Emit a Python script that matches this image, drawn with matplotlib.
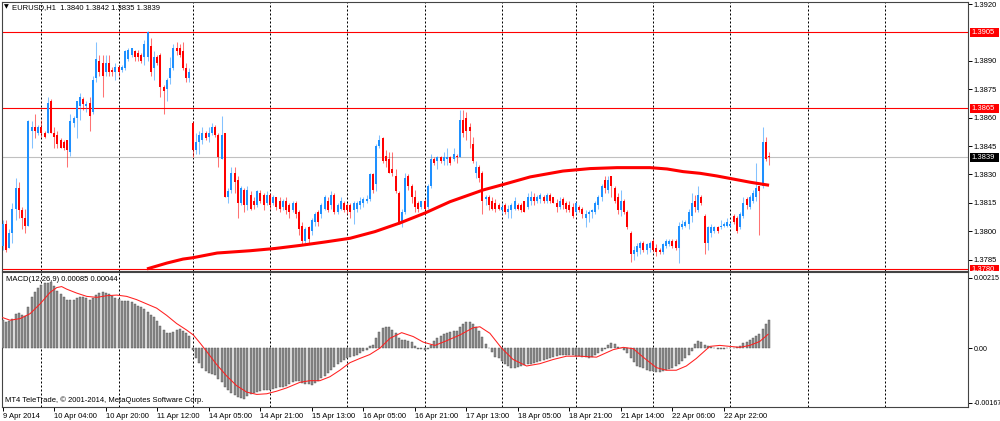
"""EURUSD H1 candles with moving average and MACD, drawn in the MT4 look."""
import numpy as np
import matplotlib
matplotlib.use("Agg")
import matplotlib.pyplot as plt
from matplotlib.patches import Rectangle
from matplotlib.transforms import Bbox, TransformedBbox, blended_transform_factory

# ---- candles, one per hour, bar 0 = 9 Apr 2014 12:00 ----
opens = [
    1.3792, 1.3804, 1.3791, 1.3799, 1.3812, 1.3823, 1.3811, 1.3807, 1.3803, 1.3853,
    1.3855, 1.3852, 1.3855, 1.3852, 1.3852, 1.3869, 1.3852, 1.3851, 1.3848, 1.3847,
    1.3848, 1.3842, 1.3857, 1.3860, 1.3866, 1.3870, 1.3866, 1.3868, 1.3863, 1.3881,
    1.3890, 1.3889, 1.3884, 1.3889, 1.3885, 1.3884, 1.3887, 1.3885, 1.3886, 1.3891,
    1.3893, 1.3895, 1.3894, 1.3893, 1.3892, 1.3892, 1.3898, 1.3886, 1.3892, 1.3893,
    1.3876, 1.3875, 1.3881, 1.3886, 1.3897, 1.3897, 1.3895, 1.3886, 1.3881, 1.3857,
    1.3843, 1.3847, 1.3848, 1.3852, 1.3850, 1.3852, 1.3855, 1.3851, 1.3838, 1.3852,
    1.3818, 1.3822, 1.3831, 1.3827, 1.3815, 1.3822, 1.3814, 1.3819, 1.3816, 1.3814,
    1.3820, 1.3819, 1.3815, 1.3819, 1.3815, 1.3818, 1.3816, 1.3813, 1.3816, 1.3814,
    1.3811, 1.3815, 1.3810, 1.3803, 1.3795, 1.3802, 1.3800, 1.3805, 1.3810, 1.3809,
    1.3812, 1.3816, 1.3814, 1.3819, 1.3810, 1.3812, 1.3815, 1.3814, 1.3814, 1.3811,
    1.3812, 1.3814, 1.3815, 1.3816, 1.3817, 1.3830, 1.3825, 1.3845, 1.3849, 1.3840,
    1.3838, 1.3833, 1.3829, 1.3820, 1.3805, 1.3810, 1.3829, 1.3824, 1.3818, 1.3815,
    1.3813, 1.3816, 1.3813, 1.3824, 1.3838, 1.3837, 1.3839, 1.3837, 1.3838, 1.3839,
    1.3838, 1.3840, 1.3839, 1.3859, 1.3860, 1.3855, 1.3846, 1.3831, 1.3834, 1.3831,
    1.3817, 1.3818, 1.3816, 1.3815, 1.3814, 1.3811, 1.3814, 1.3810, 1.3811, 1.3812,
    1.3814, 1.3814, 1.3816, 1.3813, 1.3816, 1.3818, 1.3816, 1.3817, 1.3818, 1.3816,
    1.3819, 1.3818, 1.3815, 1.3813, 1.3817, 1.3815, 1.3814, 1.3813, 1.3810, 1.3813,
    1.3812, 1.3807, 1.3809, 1.3810, 1.3810, 1.3814, 1.3818, 1.3827, 1.3822, 1.3829,
    1.3823, 1.3818, 1.3811, 1.3816, 1.3810, 1.3799, 1.3788, 1.3789, 1.3791, 1.3794,
    1.3790, 1.3791, 1.3795, 1.3791, 1.3790, 1.3789, 1.3792, 1.3793, 1.3795, 1.3795,
    1.3791, 1.3802, 1.3803, 1.3804, 1.3808, 1.3816, 1.3811, 1.3818, 1.3808, 1.3794,
    1.3799, 1.3800, 1.3802, 1.3802, 1.3803, 1.3803, 1.3803, 1.3808, 1.3807, 1.3802,
    1.3808, 1.3817, 1.3813, 1.3816, 1.3818, 1.3824, 1.3824, 1.3847, 1.3840,
]
highs = [
    1.3806, 1.3806, 1.3801, 1.3815, 1.3828, 1.3826, 1.3813, 1.3812, 1.3859, 1.3858,
    1.3862, 1.3856, 1.3859, 1.3853, 1.3871, 1.3870, 1.3855, 1.3853, 1.3849, 1.3848,
    1.3848, 1.3862, 1.3861, 1.3869, 1.3873, 1.3871, 1.3869, 1.3871, 1.3882, 1.3900,
    1.3893, 1.3893, 1.3893, 1.3893, 1.3887, 1.3889, 1.3888, 1.3888, 1.3896, 1.3897,
    1.3897, 1.3896, 1.3896, 1.3894, 1.3901, 1.3906, 1.3902, 1.3895, 1.3893, 1.3894,
    1.3877, 1.3881, 1.3892, 1.3899, 1.3900, 1.3899, 1.3900, 1.3889, 1.3886, 1.3858,
    1.3852, 1.3853, 1.3855, 1.3853, 1.3855, 1.3857, 1.3856, 1.3852, 1.3861, 1.3852,
    1.3823, 1.3834, 1.3834, 1.3829, 1.3824, 1.3823, 1.3824, 1.3821, 1.3818, 1.3822,
    1.3822, 1.3820, 1.3821, 1.3820, 1.3819, 1.3818, 1.3818, 1.3817, 1.3818, 1.3815,
    1.3816, 1.3816, 1.3811, 1.3805, 1.3802, 1.3803, 1.3807, 1.3810, 1.3811, 1.3815,
    1.3819, 1.3818, 1.3821, 1.3820, 1.3815, 1.3818, 1.3816, 1.3815, 1.3815, 1.3816,
    1.3816, 1.3818, 1.3818, 1.3819, 1.3831, 1.3831, 1.3846, 1.3851, 1.3850, 1.3843,
    1.3842, 1.3842, 1.3833, 1.3821, 1.3812, 1.3831, 1.3830, 1.3825, 1.3822, 1.3816,
    1.3816, 1.3817, 1.3825, 1.3841, 1.3839, 1.3840, 1.3840, 1.3842, 1.3844, 1.3840,
    1.3844, 1.3841, 1.3864, 1.3864, 1.3863, 1.3857, 1.3850, 1.3837, 1.3835, 1.3832,
    1.3819, 1.3819, 1.3818, 1.3817, 1.3815, 1.3815, 1.3815, 1.3814, 1.3815, 1.3818,
    1.3815, 1.3815, 1.3816, 1.3820, 1.3821, 1.3820, 1.3819, 1.3820, 1.3819, 1.3820,
    1.3820, 1.3818, 1.3817, 1.3818, 1.3818, 1.3816, 1.3816, 1.3815, 1.3816, 1.3814,
    1.3813, 1.3811, 1.3811, 1.3812, 1.3816, 1.3819, 1.3825, 1.3829, 1.3829, 1.3829,
    1.3824, 1.3820, 1.3822, 1.3817, 1.3811, 1.3800, 1.3792, 1.3794, 1.3795, 1.3795,
    1.3794, 1.3795, 1.3796, 1.3793, 1.3791, 1.3794, 1.3796, 1.3796, 1.3796, 1.3796,
    1.3805, 1.3806, 1.3806, 1.3812, 1.3820, 1.3819, 1.3824, 1.3819, 1.3809, 1.3803,
    1.3804, 1.3803, 1.3803, 1.3806, 1.3805, 1.3807, 1.3805, 1.3809, 1.3808, 1.3810,
    1.3818, 1.3818, 1.3819, 1.3822, 1.3836, 1.3824, 1.3855, 1.3850, 1.3842,
]
lows = [
    1.3790, 1.3789, 1.3791, 1.3794, 1.3806, 1.3807, 1.3801, 1.3799, 1.3803, 1.3844,
    1.3849, 1.3851, 1.3850, 1.3849, 1.3852, 1.3852, 1.3844, 1.3844, 1.3844, 1.3843,
    1.3834, 1.3840, 1.3855, 1.3849, 1.3859, 1.3864, 1.3863, 1.3853, 1.3862, 1.3879,
    1.3882, 1.3871, 1.3882, 1.3882, 1.3882, 1.3880, 1.3882, 1.3884, 1.3885, 1.3890,
    1.3892, 1.3890, 1.3890, 1.3889, 1.3888, 1.3890, 1.3882, 1.3880, 1.3888, 1.3871,
    1.3862, 1.3869, 1.3878, 1.3885, 1.3893, 1.3892, 1.3885, 1.3879, 1.3879, 1.3839,
    1.3841, 1.3841, 1.3846, 1.3848, 1.3847, 1.3851, 1.3850, 1.3834, 1.3838, 1.3818,
    1.3815, 1.3820, 1.3820, 1.3807, 1.3814, 1.3810, 1.3811, 1.3811, 1.3812, 1.3813,
    1.3815, 1.3811, 1.3814, 1.3812, 1.3814, 1.3811, 1.3810, 1.3811, 1.3809, 1.3807,
    1.3810, 1.3807, 1.3798, 1.3793, 1.3794, 1.3794, 1.3798, 1.3803, 1.3803, 1.3807,
    1.3811, 1.3810, 1.3812, 1.3809, 1.3809, 1.3811, 1.3810, 1.3809, 1.3807, 1.3804,
    1.3810, 1.3812, 1.3813, 1.3815, 1.3816, 1.3820, 1.3821, 1.3844, 1.3836, 1.3834,
    1.3831, 1.3829, 1.3820, 1.3804, 1.3802, 1.3809, 1.3822, 1.3815, 1.3810, 1.3810,
    1.3812, 1.3811, 1.3812, 1.3823, 1.3835, 1.3833, 1.3836, 1.3835, 1.3835, 1.3835,
    1.3837, 1.3836, 1.3839, 1.3850, 1.3848, 1.3844, 1.3836, 1.3828, 1.3826, 1.3809,
    1.3814, 1.3811, 1.3811, 1.3810, 1.3811, 1.3809, 1.3809, 1.3807, 1.3807, 1.3811,
    1.3811, 1.3810, 1.3810, 1.3812, 1.3814, 1.3814, 1.3815, 1.3815, 1.3815, 1.3815,
    1.3815, 1.3815, 1.3810, 1.3812, 1.3812, 1.3810, 1.3810, 1.3807, 1.3809, 1.3810,
    1.3807, 1.3802, 1.3805, 1.3807, 1.3809, 1.3812, 1.3816, 1.3820, 1.3820, 1.3818,
    1.3815, 1.3809, 1.3808, 1.3809, 1.3801, 1.3784, 1.3785, 1.3787, 1.3788, 1.3789,
    1.3788, 1.3789, 1.3789, 1.3787, 1.3788, 1.3788, 1.3791, 1.3792, 1.3791, 1.3790,
    1.3783, 1.3801, 1.3802, 1.3801, 1.3805, 1.3810, 1.3810, 1.3814, 1.3788, 1.3790,
    1.3797, 1.3799, 1.3799, 1.3801, 1.3802, 1.3802, 1.3802, 1.3804, 1.3799, 1.3801,
    1.3807, 1.3812, 1.3812, 1.3815, 1.3816, 1.3798, 1.3823, 1.3837, 1.3835,
]
closes = [
    1.3804, 1.3790, 1.3799, 1.3812, 1.3823, 1.3811, 1.3807, 1.3803, 1.3858, 1.3855,
    1.3853, 1.3855, 1.3852, 1.3850, 1.3868, 1.3852, 1.3850, 1.3846, 1.3844, 1.3844,
    1.3843, 1.3858, 1.3860, 1.3869, 1.3871, 1.3867, 1.3867, 1.3861, 1.3880, 1.3891,
    1.3884, 1.3882, 1.3889, 1.3884, 1.3884, 1.3887, 1.3884, 1.3887, 1.3895, 1.3896,
    1.3897, 1.3892, 1.3892, 1.3890, 1.3899, 1.3905, 1.3884, 1.3892, 1.3889, 1.3876,
    1.3874, 1.3880, 1.3886, 1.3897, 1.3895, 1.3893, 1.3886, 1.3881, 1.3884, 1.3843,
    1.3847, 1.3851, 1.3852, 1.3849, 1.3852, 1.3855, 1.3851, 1.3839, 1.3851, 1.3818,
    1.3821, 1.3831, 1.3826, 1.3815, 1.3823, 1.3814, 1.3822, 1.3812, 1.3814, 1.3821,
    1.3816, 1.3814, 1.3819, 1.3814, 1.3818, 1.3813, 1.3812, 1.3816, 1.3811, 1.3810,
    1.3815, 1.3809, 1.3801, 1.3795, 1.3801, 1.3796, 1.3806, 1.3809, 1.3805, 1.3814,
    1.3818, 1.3811, 1.3819, 1.3810, 1.3814, 1.3816, 1.3811, 1.3811, 1.3810, 1.3815,
    1.3815, 1.3816, 1.3817, 1.3817, 1.3830, 1.3822, 1.3845, 1.3848, 1.3837, 1.3837,
    1.3831, 1.3831, 1.3821, 1.3805, 1.3810, 1.3828, 1.3824, 1.3818, 1.3813, 1.3812,
    1.3816, 1.3812, 1.3824, 1.3838, 1.3836, 1.3839, 1.3837, 1.3839, 1.3839, 1.3836,
    1.3841, 1.3839, 1.3859, 1.3852, 1.3853, 1.3853, 1.3837, 1.3834, 1.3828, 1.3816,
    1.3818, 1.3814, 1.3812, 1.3812, 1.3812, 1.3813, 1.3810, 1.3812, 1.3814, 1.3816,
    1.3812, 1.3811, 1.3810, 1.3818, 1.3818, 1.3816, 1.3818, 1.3819, 1.3816, 1.3819,
    1.3816, 1.3815, 1.3813, 1.3816, 1.3814, 1.3812, 1.3811, 1.3808, 1.3815, 1.3811,
    1.3809, 1.3809, 1.3810, 1.3811, 1.3815, 1.3818, 1.3824, 1.3823, 1.3827, 1.3824,
    1.3816, 1.3811, 1.3816, 1.3810, 1.3802, 1.3788, 1.3790, 1.3792, 1.3794, 1.3790,
    1.3793, 1.3794, 1.3790, 1.3789, 1.3789, 1.3793, 1.3795, 1.3795, 1.3792, 1.3791,
    1.3803, 1.3804, 1.3805, 1.3810, 1.3815, 1.3813, 1.3819, 1.3815, 1.3794, 1.3802,
    1.3802, 1.3802, 1.3800, 1.3803, 1.3804, 1.3805, 1.3804, 1.3805, 1.3800, 1.3809,
    1.3815, 1.3814, 1.3818, 1.3820, 1.3823, 1.3821, 1.3847, 1.3838, 1.3839,
]

# ---- moving average (red) at these bars ----
ma_bars = [44.8, 51, 56, 59, 66.6, 76.8, 84.6, 92.3, 100, 107.9, 115.6, 123.4, 131.1, 138.9,
           149.2, 154.4, 163.8, 174, 182.4, 190.8, 201, 206.3, 211.3, 216.6, 221.8, 226.8,
           232.1, 238]
ma_vals = [1.37801, 1.37832, 1.37853, 1.37860, 1.37885, 1.37897, 1.37909, 1.37925, 1.37943,
           1.37963, 1.37998, 1.38044, 1.38096, 1.38156, 1.38218, 1.38242, 1.38287, 1.38318,
           1.38331, 1.38336, 1.38336, 1.38329, 1.38315, 1.38306, 1.38292, 1.38276, 1.38259,
           1.38243]

# ---- MACD(12,26,9) histogram per bar, in points (1e-5) ----
macd_pts = [
    85, 80, 82, 90, 103, 106, 102, 98, 127, 155,
    172, 185, 192, 198, 200, 202, 190, 175, 165, 157,
    148, 148, 148, 152, 155, 155, 152, 148, 152, 162,
    168, 170, 168, 165, 158, 152, 150, 145, 143, 143,
    140, 135, 130, 125, 118, 110, 102, 95, 82, 68,
    55, 47, 45, 50, 55, 58, 52, 45, 38, -5,
    -32, -45, -62, -70, -75, -80, -82, -95, -105, -120,
    -130, -138, -145, -150, -153, -155, -148, -142, -138, -135,
    -132, -130, -130, -128, -125, -122, -120, -118, -115, -110,
    -105, -102, -102, -106, -110, -110, -112, -108, -100, -92,
    -85, -75, -66, -58, -50, -42, -38, -32, -28, -24,
    -20, -15, -10, -6, 5, 10, 32, 50, 62, 65,
    63, 55, 45, 30, 25, 25, 22, 17, 5, -2,
    -4, -6, -2, 8, 20, 32, 38, 42, 47, 50,
    52, 52, 65, 75, 80, 80, 73, 65, 52, 35,
    12, 0, -12, -26, -32, -40, -48, -55, -60, -60,
    -58, -55, -52, -50, -48, -46, -43, -39, -36, -33,
    -30, -26, -23, -22, -22, -21, -22, -22, -23, -25,
    -26, -28, -30, -28, -22, -15, -10, -2, 8, 15,
    11, 4, -1, -5, -16, -32, -44, -54, -58, -62,
    -66, -69, -71, -72, -72, -70, -67, -64, -60, -54,
    -48, -40, -32, -20, -8, 12, 20, 19, 10, 5,
    2, 0, -2, -2, -2, -1, -1, -1, 2, 7,
    14, 19, 24, 30, 36, 44, 58, 72, 85,
]
signal_bars = [0, 2.3, 5.4, 8.5, 11.6, 14.7, 16.8, 18.3, 19.9, 23, 26.1, 29.2, 32.3, 35.4,
               38.5, 41.6, 44.7, 47.8, 50.9, 54, 57.1, 59.2, 61.3, 63.3, 66.4, 69.5, 72.6,
               75.8, 78.9, 82, 85.1, 88.2, 92.3, 95.4, 98.5, 101.6, 104.7, 107.8, 110.9, 114,
               117.2, 120.3, 123.9, 127.5, 130.6, 134.2, 137.8, 142, 146.1, 148.2, 151.3,
               154.9, 158.5, 162.7, 166.8, 171, 175.1, 179.2, 184.4, 189.6, 192.7, 195.8,
               198.9, 203, 206.1, 209.2, 212.3, 215.4, 219.6, 222.7, 225.8, 228.9, 232,
               235.1, 237.7]
signal_pts = [93, 85, 90, 105, 135, 170, 185, 188, 180, 168, 158, 155, 160, 162,
              158, 148, 135, 122, 100, 75, 55, 40, 15, -10, -50, -85, -115,
              -135, -142, -140, -132, -122, -105, -100, -100, -88, -68, -45, -32, -20,
              0, 30, 47, 35, 18, 8, 22, 40, 62, 65, 45,
              0, -35, -55, -48, -35, -25, -25, -28, -5, 2, -2,
              -28, -60, -68, -68, -55, -32, 5, 8, 5, 2, 8,
              20, 42]

# ---- axis labels ----
day_start_bars = [12, 36, 59, 83, 107, 131, 155, 178, 202, 226, 250, 274]
time_tick_bars = [0, 16, 32, 48, 64, 80, 96, 112, 128, 144, 160, 176, 192, 208, 224]
time_labels = ["9 Apr 2014", "10 Apr 04:00", "10 Apr 20:00", "11 Apr 12:00", "14 Apr 05:00",
               "14 Apr 21:00", "15 Apr 13:00", "16 Apr 05:00", "16 Apr 21:00", "17 Apr 13:00",
               "18 Apr 05:00", "18 Apr 21:00", "21 Apr 14:00", "22 Apr 06:00", "22 Apr 22:00"]
price_ticks = [1.3920, 1.3890, 1.3875, 1.3860, 1.3845, 1.3830, 1.3815, 1.3800, 1.3785]
macd_ticks = [0.00215, 0.0, -0.00167]
macd_tick_labels = ["0.00215", "0.00", "-0.00167"]
level_lines = [1.3905, 1.3865, 1.3780]
bid = 1.3839

W, H = 1000, 421
plt.rcParams["font.family"] = ["Liberation Sans", "DejaVu Sans"]
FS = 5.5
BLUE, RED = "#1e90ff", "#ff0000"

fig = plt.figure(figsize=(W / 100, H / 100), dpi=100)
ax = fig.add_axes([2 / W, 1 - 271 / H, 966 / W, 269 / H])
axm = fig.add_axes([2 / W, 1 - 407 / H, 966 / W, 135 / H])

o, hi, lo, c = (np.asarray(v) for v in (opens, highs, lows, closes))
idx = np.arange(len(c))
cols = np.where(c >= o, BLUE, RED)
ax.vlines(idx, lo, hi, colors=cols, lw=0.75, alpha=0.55, zorder=3)
ax.bar(idx, np.maximum(np.abs(c - o), 0.00004), bottom=np.minimum(o, c), width=0.62,
       color=cols, lw=0, zorder=4)
ax.plot(ma_bars, ma_vals, color=RED, lw=2.2, zorder=5, solid_capstyle="butt")

for lv in level_lines:
    ax.axhline(lv, color=RED, lw=0.8, zorder=2)
ax.axhline(bid, color="#c0c0c0", lw=0.8, zorder=2)

macd = np.asarray(macd_pts) * 1e-5
axm.bar(idx, macd, width=0.62, color="#8c8c8c", edgecolor="#505050", lw=0.3, zorder=3)
axm.plot(signal_bars, np.asarray(signal_pts) * 1e-5, color="#ff2020", lw=0.75, zorder=4)

for a in (ax, axm):
    for d in day_start_bars:
        a.axvline(d, color="black", lw=0.72, ls=(0, (2, 2)), zorder=1)
    a.set_xlim(-0.22, 299.78)
    for s in a.spines.values():
        s.set_color("#444444")
        s.set_linewidth(0.8)
    a.yaxis.tick_right()
    a.tick_params(axis="y", length=3, width=0.7, pad=1, labelsize=FS)

ax.set_ylim(1.37790, 1.39211)
ax.set_yticks(price_ticks)
ax.set_yticklabels([f"{v:.4f}" for v in price_ticks])
ax.set_xticks([])

axm.set_ylim(-0.001805, 0.002326)
axm.set_yticks(macd_ticks)
axm.set_yticklabels(macd_tick_labels)
axm.tick_params(axis="y", labelsize=5.1)
axm.set_xticks(time_tick_bars)
axm.set_xticklabels(time_labels, ha="left")
axm.tick_params(axis="x", length=3, width=0.7, pad=1.5, labelsize=FS)

# price boxes on the right scale
tr = blended_transform_factory(ax.transAxes, ax.transData)
clip = TransformedBbox(Bbox([[0, 1 - 271 / H], [1, 1]]), fig.transFigure)
for lv, col in [(1.3905, RED), (1.3865, RED), (bid, "black"), (1.3780, RED)]:
    r = Rectangle((1.002, lv - 0.00023), 0.030, 0.00046, transform=tr, facecolor=col, lw=0)
    fig.add_artist(r)
    t = fig.text(1.0038, lv, f"{lv:.4f}", transform=tr, color="white", fontsize=FS,
                 ha="left", va="center")
    r.set_clip_box(clip); r.set_clip_on(True)
    t.set_clip_box(clip); t.set_clip_on(True)

fig.text(4 / W, 1 - 7 / H, "▼", fontsize=4.5, va="center", ha="left",
         family=["DejaVu Sans"])
fig.text(12 / W, 1 - 7.5 / H, "EURUSD,H1  1.3840 1.3842 1.3835 1.3839", fontsize=FS,
         va="center", ha="left")
fig.text(6 / W, 1 - 279.5 / H, "MACD(12,26,9) 0.00085 0.00044", fontsize=FS,
         va="center", ha="left")
fig.text(5 / W, 1 - 400.5 / H, "MT4 TeleTrade, © 2001-2014, MetaQuotes Software Corp.",
         fontsize=FS, va="center", ha="left")

fig.savefig("out.png", dpi=100, facecolor="white")
